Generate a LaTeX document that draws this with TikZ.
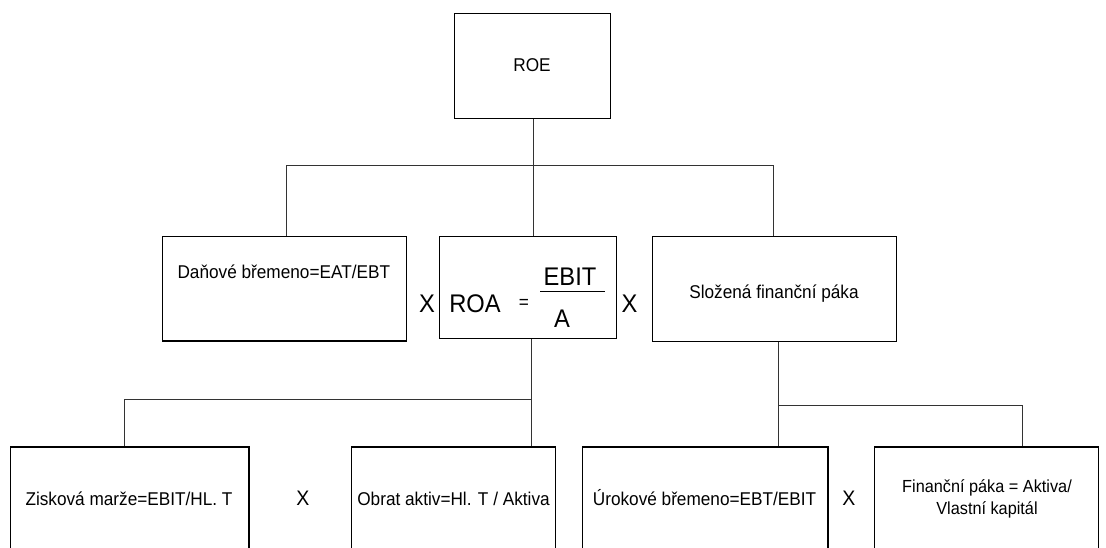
\documentclass[tikz,border=0pt]{standalone}
\usepackage{fontspec}
\setmainfont{Liberation Sans}
\newfontfamily\narrowfont[FakeStretch=0.93]{Liberation Sans}
\begin{document}
\begin{tikzpicture}[x=1pt,y=-1pt,
  box/.style={draw=black, line width=1.3pt, inner sep=0pt, anchor=north west},
  conn/.style={draw=black!80, line width=0.9pt},
  lbl/.style={font=\narrowfont\fontsize{18.5}{22}\selectfont, inner sep=0pt, anchor=base},
  big/.style={font=\narrowfont\fontsize{25.5}{29}\selectfont, inner sep=0pt, anchor=base},
  mid/.style={font=\narrowfont\fontsize{21}{25}\selectfont, inner sep=0pt, anchor=base}]
\useasboundingbox (0,0) rectangle (1106,547);
\clip (0,0) rectangle (1106,547);
% boxes
\node[box, minimum width=156.3pt, minimum height=105.3pt] (roe) at (453.7,12.7) {};
\node[box, minimum width=244.3pt, minimum height=104.8pt] (dan) at (161.7,235.5) {};
\node[box, minimum width=177pt, minimum height=102.5pt] (roa) at (439,235.5) {};
\node[box, minimum width=244pt, minimum height=105pt] (slo) at (652,235.5) {};
\node[box, minimum width=238.6pt, minimum height=108pt] (zis) at (9.7,446.3) {};
\node[box, minimum width=204pt, minimum height=108pt] (obr) at (351,446.3) {};
\node[box, minimum width=245.6pt, minimum height=108pt] (uro) at (581.7,446.3) {};
\node[box, minimum width=224.3pt, minimum height=108pt] (fin) at (873.7,446.3) {};
% connectors level 1
\coordinate (j1) at (533,165);
\coordinate (j1l) at (286,165);
\coordinate (j1r) at (773.5,165);
\draw[conn] (j1 |- roe.south) -- (j1);
\draw[conn] (j1l) -- (j1r);
\draw[conn] (j1l) -- (j1l |- dan.north);
\draw[conn] (j1) -- (j1 |- roa.north);
\draw[conn] (j1r) -- (j1r |- slo.north);
% connectors level 2
\coordinate (j2) at (531,399);
\coordinate (j2l) at (124.7,399);
\draw[conn] (j2 |- roa.south) -- (j2 |- obr.north);
\draw[conn] (j2l) -- (j2);
\draw[conn] (j2l) -- (j2l |- zis.north);
\coordinate (j3) at (778.7,405);
\coordinate (j3r) at (1022.3,405);
\draw[conn] (j3 |- slo.south) -- (j3 |- uro.north);
\draw[conn] (j3) -- (j3r) -- (j3r |- fin.north);
% texts
\node[lbl] (troe) at (532,71) {ROE};
\node[lbl] (tdan) at (283.8,278) {Daňové břemeno=EAT/EBT};
\node[big] (x1) at (427,312) {X};
\node[big] (troa) at (475,312) {ROA};
\node[lbl] (teq) at (524,308.5) {=};
\node[big] (tebit) at (570,285) {EBIT};
\coordinate (fb1) at (540,291);
\coordinate (fb2) at (605,291);
\draw[line width=1pt] (fb1) -- (fb2);
\node[big] (ta) at (562,327) {A};
\node[big] (x2) at (629.5,312) {X};
\node[lbl] (tslo) at (774,298) {Složená finanční páka};
\node[lbl] (tzis) at (129,505) {Zisková marže=EBIT/HL. T};
\node[mid] (x3) at (303,505) {X};
\node[lbl] (tobr) at (453.5,505) {Obrat aktiv=Hl. T / Aktiva};
\node[lbl] (turo) at (704.5,505) {Úrokové břemeno=EBT/EBIT};
\node[mid] (x4) at (849,505) {X};
\node[font=\narrowfont\fontsize{17.5}{22}\selectfont, inner sep=0pt, align=center] (tfin) at (987,499) {Finanční páka = Aktiva/\\Vlastní kapitál};
\end{tikzpicture}
\end{document}
